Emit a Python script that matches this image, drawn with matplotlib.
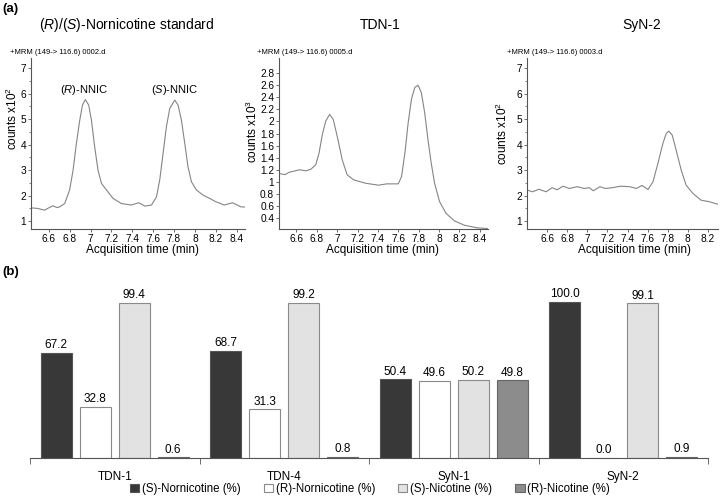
import matplotlib
matplotlib.use("Agg")
import matplotlib.pyplot as plt
import numpy as np

plt.rcParams['font.family'] = ['Liberation Sans', 'DejaVu Sans']
plt.rcParams['mathtext.fontset'] = 'custom'
plt.rcParams['mathtext.rm'] = 'Liberation Sans'
plt.rcParams['mathtext.it'] = 'Liberation Sans:italic'

# chromatogram traces (time in min, counts)
std_t = [6.425, 6.49, 6.56, 6.60, 6.64, 6.68, 6.705, 6.753, 6.80, 6.833, 6.865, 6.897, 6.923,
         6.95, 6.983, 7.009, 7.04, 7.072, 7.105, 7.153, 7.216, 7.296, 7.39, 7.462, 7.52, 7.584,
         7.632, 7.663, 7.695, 7.727, 7.759, 7.807, 7.839, 7.871, 7.903, 7.934, 7.967, 8.015,
         8.078, 8.142, 8.19, 8.28, 8.36, 8.44, 8.48]
std_y = [1.52, 1.50, 1.43, 1.52, 1.60, 1.53, 1.56, 1.69, 2.22, 3.00, 4.05, 4.96, 5.55,
         5.77, 5.55, 4.96, 3.91, 3.00, 2.48, 2.22, 1.89, 1.69, 1.63, 1.72, 1.59, 1.63,
         1.95, 2.61, 3.65, 4.70, 5.42, 5.75, 5.55, 4.96, 4.05, 3.13, 2.54, 2.22,
         2.02, 1.89, 1.78, 1.63, 1.72, 1.56, 1.55]

tdn_t = [6.41, 6.49, 6.53, 6.56, 6.629, 6.694, 6.743, 6.791, 6.823, 6.855, 6.888, 6.927, 6.962,
         7.001, 7.05, 7.098, 7.163, 7.277, 7.406, 7.487, 7.60, 7.632, 7.665, 7.697, 7.729, 7.762,
         7.794, 7.826, 7.859, 7.891, 7.923, 7.956, 8.005, 8.069, 8.15, 8.248, 8.377, 8.474]
tdn_y = [1.145, 1.12, 1.16, 1.17, 1.20, 1.183, 1.21, 1.283, 1.478, 1.783, 2.005, 2.117, 2.033,
         1.755, 1.367, 1.117, 1.033, 0.978, 0.945, 0.967, 0.967, 1.088, 1.478, 1.978, 2.367, 2.562,
         2.60, 2.478, 2.145, 1.70, 1.312, 0.978, 0.672, 0.478, 0.355, 0.283, 0.238, 0.228]

syn_t = [6.40, 6.455, 6.52, 6.59, 6.65, 6.70, 6.76, 6.82, 6.90, 6.97, 7.02, 7.06, 7.125, 7.18,
         7.25, 7.33, 7.422, 7.488, 7.544, 7.603, 7.653, 7.702, 7.752, 7.785, 7.811, 7.845, 7.884,
         7.934, 7.983, 8.049, 8.132, 8.214, 8.30]
syn_y = [2.22, 2.15, 2.25, 2.15, 2.31, 2.23, 2.37, 2.28, 2.35, 2.28, 2.31, 2.19, 2.35, 2.28,
         2.31, 2.37, 2.35, 2.28, 2.40, 2.24, 2.54, 3.26, 4.05, 4.44, 4.53, 4.37, 3.78,
         3.00, 2.41, 2.09, 1.82, 1.76, 1.66]

# enantiomer percentages
samples = ["TDN-1", "TDN-4", "SyN-1", "SyN-2"]
s_nornic = [67.2, 68.7, 50.4, 100.0]
r_nornic = [32.8, 31.3, 49.6, 0.0]
s_nic = [99.4, 99.2, 50.2, 99.1]
r_nic = [0.6, 0.8, 49.8, 0.9]

W, H = 720, 498
fig = plt.figure(figsize=(7.2, 4.98), dpi=100)


def box(x0, y0, x1, y1):
    # pixel box -> figure fraction [left, bottom, width, height]
    return [x0 / W, 1 - y1 / H, (x1 - x0) / W, (y1 - y0) / H]


def chrom(rect, t, y, xlim, ylim, yticks, minor=None):
    ax = fig.add_axes(rect)
    ax.plot(t, y, color="#858585", lw=0.8)
    ax.set_xlim(*xlim)
    ax.set_ylim(*ylim)
    ax.set_xticks([x for x in np.arange(6.6, 8.45, 0.2) if x <= xlim[1]])
    ax.xaxis.set_major_formatter(matplotlib.ticker.FormatStrFormatter("%g"))
    ax.set_yticks(yticks)
    ax.yaxis.set_major_formatter(matplotlib.ticker.FormatStrFormatter("%g"))
    if minor is not None:
        ax.set_yticks(minor, minor=True)
    for s in ["top", "right"]:
        ax.spines[s].set_visible(False)
    for s in ["left", "bottom"]:
        ax.spines[s].set_color("#555555")
        ax.spines[s].set_linewidth(0.8)
    ax.tick_params(labelsize=7.3, length=2, width=0.6, color="#555555", pad=1.5)
    ax.tick_params(which="minor", length=1.5, width=0.5, color="#555555")
    return ax


ax1 = chrom(box(31, 58, 245, 229), std_t, std_y, (6.43, 8.48), (0.69, 7.4),
            [1, 2, 3, 4, 5, 6, 7], np.arange(1.5, 7.4, 1.0))
ax1.text(6.935, 6.15, r"($\mathit{R}$)-NNIC", ha="center", va="center", fontsize=8)
ax1.text(7.81, 6.15, r"($\mathit{S}$)-NNIC", ha="center", va="center", fontsize=8)

ax2 = chrom(box(279, 58, 488, 229), tdn_t, tdn_y, (6.43, 8.48), (0.22, 3.05),
            np.round(np.arange(0.4, 2.81, 0.2), 1))

ax3 = chrom(box(527, 58, 718, 229), syn_t, syn_y, (6.40, 8.30), (0.69, 7.4),
            [1, 2, 3, 4, 5, 6, 7], np.arange(1.5, 7.4, 1.0))

titles = [r"($\mathit{R}$)/($\mathit{S}$)-Nornicotine standard", "TDN-1", "SyN-2"]
title_x = [127, 380, 642]
for tx, tt in zip(title_x, titles):
    fig.text(tx / W, 1 - 25 / H, tt, ha="center", va="center", fontsize=10)

mrm = ["+MRM (149-> 116.6) 0002.d", "+MRM (149-> 116.6) 0005.d", "+MRM (149-> 116.6) 0003.d"]
for mx, mt in zip([10, 257, 507], mrm):
    fig.text(mx / W, 1 - 52 / H, mt, ha="left", va="center", fontsize=5.5)

ylabels = [r"counts x10$^{2}$", r"counts x10$^{3}$", r"counts x10$^{2}$"]
for (lx, ly), lt in zip([(12, 118), (252, 131), (502, 133)], ylabels):
    fig.text(lx / W, 1 - ly / H, lt, ha="center", va="center", rotation=90, fontsize=8.5)

for lx in [143, 383, 635]:
    fig.text(lx / W, 1 - 250 / H, "Acquisition time (min)", ha="center", va="center", fontsize=8.5)

fig.text(2 / W, 1 - 9 / H, "(a)", ha="left", va="center", fontsize=9.5, fontweight="bold")
fig.text(2 / W, 1 - 272 / H, "(b)", ha="left", va="center", fontsize=9.5, fontweight="bold")

# bar chart
axb = fig.add_axes(box(30, 283, 708, 458))
x = np.arange(len(samples))
bw = 0.185
offsets = [-0.345, -0.115, 0.115, 0.345]
series = [s_nornic, r_nornic, s_nic, r_nic]
labels = ["(S)-Nornicotine (%)", "(R)-Nornicotine (%)", "(S)-Nicotine (%)", "(R)-Nicotine (%)"]
fills = ["#383838", "#ffffff", "#e2e2e2", "#8c8c8c"]
edges = ["#555555", "#8a8a8a", "#8a8a8a", "#666666"]
for off, vals, lab, fc, ec in zip(offsets, series, labels, fills, edges):
    bars = axb.bar(x + off, vals, bw, color=fc, edgecolor=ec, linewidth=0.8, label=lab)
    for b, v in zip(bars, vals):
        axb.text(b.get_x() + b.get_width() / 2, v + 1.0, f"{v:.1f}", ha="center", va="bottom",
                 fontsize=8.5)

axb.set_xlim(-0.5, len(samples) - 0.5)
axb.set_ylim(0, 112)
axb.set_yticks([])
for s in ["top", "right", "left"]:
    axb.spines[s].set_visible(False)
axb.spines["bottom"].set_color("#555555")
axb.spines["bottom"].set_linewidth(0.8)
axb.set_xticks(np.arange(-0.5, len(samples)), labels=[""] * (len(samples) + 1))
axb.set_xticks(x, labels=samples, minor=True)
axb.tick_params(which="major", length=4, width=0.6, color="#555555")
axb.tick_params(which="minor", length=0, labelsize=8.5, pad=9)

fig.legend(*axb.get_legend_handles_labels(), loc="center", bbox_to_anchor=(370 / W, 1 - 489 / H),
           ncol=4, frameon=False, fontsize=8.3, handlelength=0.8, handleheight=0.8,
           handletextpad=0.25, columnspacing=2.0, borderaxespad=0, borderpad=0)

fig.savefig("out.png", dpi=100)
